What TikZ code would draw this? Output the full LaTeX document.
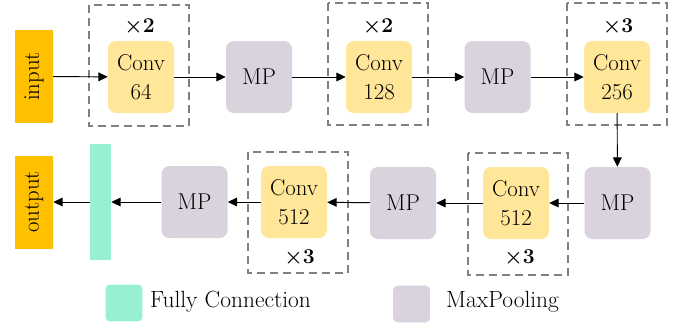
\documentclass[tikz,border=0pt]{standalone}
\usepackage{fontspec}
\usetikzlibrary{arrows.meta}
\definecolor{inorange}{HTML}{FFC000}
\definecolor{convyellow}{HTML}{FFE699}
\definecolor{poolgray}{HTML}{DAD3DE}
\definecolor{fcgreen}{HTML}{97F1D0}
\definecolor{dashgray}{HTML}{7F7F7F}
\tikzset{
  conv/.style={fill=convyellow, rounded corners=0.24cm, minimum width=1.98cm, minimum height=2.16cm,
    inner sep=0pt, align=center, font=\fontsize{19.5}{25}\selectfont},
  pool/.style={conv, fill=poolgray},
  io/.style={fill=inorange, minimum width=2.79cm, minimum height=1.14cm, inner sep=0pt,
    rotate=90, font=\fontsize{19.5}{25}\selectfont},
  fc/.style={fill=fcgreen, minimum width=0.63cm, minimum height=3.48cm, inner sep=0pt},
  repbox/.style={draw=dashgray, line width=1.3pt, dash pattern=on 0.24cm off 0.15cm},
  times/.style={font=\fontsize{18}{24}\selectfont\bfseries},
  flow/.style={draw, line width=0.8pt, -{Triangle[length=0.28cm,width=0.26cm]}},
  legend/.style={rounded corners=0.12cm, minimum size=1.1cm, inner sep=0pt},
  legendtext/.style={anchor=west, inner sep=0pt, font=\fontsize{20}{24}\selectfont}
}
\begin{document}
\begin{tikzpicture}[x=0.03cm,y=-0.03cm]
\useasboundingbox (0,0) rectangle (685,325);
% repeat blocks
\draw[repbox] (89,5) rectangle (189,126);
\draw[repbox] (328,3) rectangle (428,125);
\draw[repbox] (567,3) rectangle (667,125);
\draw[repbox] (468,153) rectangle (568,275);
\draw[repbox] (248,152) rectangle (348,273);
\node[times] (n1) at (139.5,26) {×2};
\node[times] (n2) at (378,26) {×2};
\node[times] (n3) at (618,26) {×3};
\node[times] (n4) at (519.5,257) {×3};
\node[times] (n5) at (299.5,257) {×3};
% top row
\node[io] (input) at (34,76.5) {input};
\node[conv] (c1) at (141,77) {Conv\\64};
\node[pool] (p1) at (259,77) {MP};
\node[conv] (c2) at (379,77) {Conv\\128};
\node[pool] (p2) at (497.5,77) {MP};
\node[conv] (c3) at (617,77) {Conv\\256};
% bottom row
\node[pool] (p3) at (617.5,203) {MP};
\node[conv] (c4) at (516,203) {Conv\\512};
\node[pool] (p4) at (403,203) {MP};
\node[conv] (c5) at (294,202) {Conv\\512};
\node[pool] (p5) at (194.5,202) {MP};
\node[fc] (fc) at (100.5,202) {};
\node[io] (output) at (34,202) {output};
\draw[flow] (input) -- (c1);
\draw[flow] (c1) -- (p1);
\draw[flow] (p1) -- (c2);
\draw[flow] (c2) -- (p2);
\draw[flow] (p2) -- (c3);
\draw[flow] (c3) -- (p3);
\draw[flow] (p3) -- (c4);
\draw[flow] (c4) -- (p4);
\draw[flow] (p4) -- (c5);
\draw[flow] (c5) -- (p5);
\draw[flow] (p5) -- (fc);
\draw[flow] (fc) -- (output);
% legend
\node[legend, fill=fcgreen] (lfc) at (124,303) {};
\node[legendtext] (tfc) at (150,302) {Fully Connection};
\node[legend, fill=poolgray] (lmp) at (411.5,304) {};
\node[legendtext] (tmp) at (446,302) {MaxPooling};
\end{tikzpicture}
\end{document}
